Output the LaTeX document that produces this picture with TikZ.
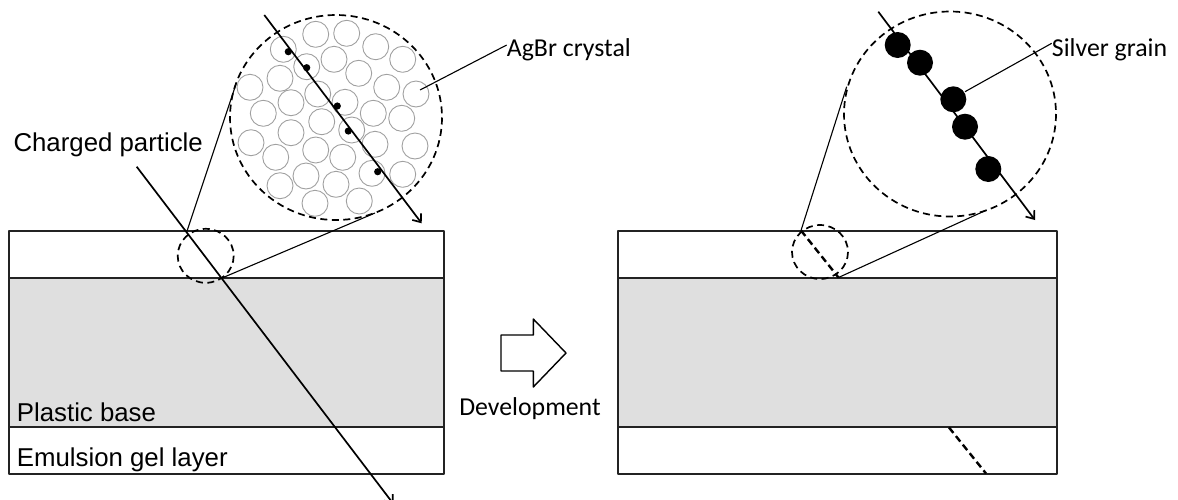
\documentclass[tikz,border=0pt]{standalone}
\usepackage{fontspec}
\setmainfont{Liberation Sans}
\newfontfamily\calibrifont{Carlito}
\usetikzlibrary{arrows.meta}

\definecolor{basegray}{RGB}{223,223,223}
\definecolor{crystalgray}{RGB}{160,160,160}
\definecolor{edgegray}{RGB}{35,35,35}

\tikzset{
  layer/.style={draw=edgegray, line width=1.4pt},
  lens/.style={draw=black, line width=1.7pt, dash pattern=on 7pt off 4.5pt},
  track/.style={line width=1.7pt, -{Straight Barb[length=7pt,width=11pt]}},
  leader/.style={line width=1.1pt},
  crystal/.style={draw=crystalgray, line width=0.9pt},
  lbl/.style={anchor=base west, inner sep=0pt, font=\fontsize{25.8}{30}\selectfont},
  clbl/.style={inner sep=0pt, font=\calibrifont\fontsize{25.8}{30}\selectfont}
}

\begin{document}
\begin{tikzpicture}[x=1pt, y=-1pt, line join=round]

  %% ════ 左：显影前的乳胶片 ════
  \fill[basegray] (9,278) rectangle (444,427);
  \draw[layer] (9,231) rectangle (444,474);
  \draw[layer] (9,278) -- (444,278);
  \draw[layer] (9,427) -- (444,427);

  % 粒子径迹上的关键点
  \coordinate (inL)   at (136.7,166.7);
  \coordinate (topL)  at (187,231);
  \coordinate (baseL) at (222,278);
  \coordinate (outL)  at (393.5,504);
  \draw[track] (inL) -- (outL);

  % 放大镜：小虚线圈 + 两条引线
  \draw[lens] (205.7,255.8) ellipse [x radius=28, y radius=27];
  \coordinate (lensLa) at (236,84);
  \coordinate (lensLb) at (375,213);
  \draw[leader] (topL) -- (lensLa);
  \draw[leader] (baseL) -- (lensLb);

  %% ════ 左上放大圈：AgBr 晶体 ════
  \draw[crystal] (283.3,49.3) circle (13);
  \draw[crystal] (315.7,34.3) circle (13);
  \draw[crystal] (346.7,33.3) circle (13);
  \draw[crystal] (375.7,46.7) circle (13);
  \draw[crystal] (402.7,59.3) circle (13);
  \draw[crystal] (306.7,66.7) circle (13);
  \draw[crystal] (334.0,59.3) circle (13);
  \draw[crystal] (280.0,78.3) circle (13);
  \draw[crystal] (358.7,73.3) circle (13);
  \draw[crystal] (250.0,87.3) circle (13);
  \draw[crystal] (317.7,94.0) circle (13);
  \draw[crystal] (386.7,87.3) circle (13);
  \draw[crystal] (416.0,94.0) circle (13);
  \draw[crystal] (291.0,102.7) circle (13);
  \draw[crystal] (345.0,102.3) circle (13);
  \draw[crystal] (263.3,113.3) circle (13);
  \draw[crystal] (373.3,113.3) circle (13);
  \draw[crystal] (401.7,118.3) circle (13);
  \draw[crystal] (321.7,121.7) circle (13);
  \draw[crystal] (291.0,132.7) circle (13);
  \draw[crystal] (351.7,130.0) circle (13);
  \draw[crystal] (251.0,142.7) circle (13);
  \draw[crystal] (375.0,144.3) circle (13);
  \draw[crystal] (415.0,146.0) circle (13);
  \draw[crystal] (315.7,150.0) circle (13);
  \draw[crystal] (275.7,157.3) circle (13);
  \draw[crystal] (342.7,157.3) circle (13);
  \draw[crystal] (306.0,176.0) circle (13);
  \draw[crystal] (372.0,173.3) circle (13);
  \draw[crystal] (402.7,174.3) circle (13);
  \draw[crystal] (280.0,185.7) circle (13);
  \draw[crystal] (336.0,184.3) circle (13);
  \draw[crystal] (315.0,203.3) circle (13);
  \draw[crystal] (359.3,201.0) circle (13);

  \draw[lens] (336,117.5) ellipse [x radius=106, y radius=102.5];
  \draw[track] (264.3,15) -- (421.7,223.3);

  % 潜影核（小黑点）
  \fill (288.3,51.7) circle (3.6);
  \fill (306.7,67.7) circle (3.6);
  \fill (337.3,106.0) circle (3.6);
  \fill (348.3,131.0) circle (3.6);
  \fill (377.7,171.7) circle (3.6);

  \coordinate (agbrFrom) at (420,90);
  \node[clbl, anchor=base west] (agbr) at (506.7,56.7) {AgBr crystal};
  \draw[leader] (agbrFrom) -- (agbr.west |- 0,45);

  %% ════ 中间：显影箭头 ════
  \draw[line width=1.4pt] (501,335) -- (533.3,335) -- (533.3,319) -- (566,353)
    -- (533.3,387) -- (533.3,371) -- (501,371) -- cycle;
  \node[clbl, anchor=base] (dev) at (530,415) {Development};

  %% ════ 右：显影后 ════
  \fill[basegray] (618,278) rectangle (1057,427);
  \draw[layer] (618,231) rectangle (1057,474);
  \draw[layer] (618,278) -- (1057,278);
  \draw[layer] (618,427) -- (1057,427);

  \coordinate (topR)  at (801,230.5);
  \coordinate (baseR) at (838.5,277.5);
  \draw[line width=2.4pt, dash pattern=on 7pt off 4pt] (topR) -- (baseR);
  \draw[line width=2.4pt, dash pattern=on 7pt off 4pt] (949,427.5) -- (986,473.5);

  \draw[lens] (820,252) ellipse [x radius=28, y radius=27];
  \coordinate (lensRa) at (846.7,86.7);
  \coordinate (lensRb) at (986.7,210);
  \draw[leader] (topR) -- (lensRa);
  \draw[leader] (baseR) -- (lensRb);

  \draw[lens] (950,114) ellipse [x radius=106, y radius=102.5];
  \draw[track] (878.3,11.7) -- (1035,220);

  % 银颗粒
  \fill (897.7,45.0) circle (13);
  \fill (920.0,62.7) circle (13);
  \fill (953.3,99.3) circle (13);
  \fill (965.0,126.7) circle (13);
  \fill (988.3,169.0) circle (13);

  \coordinate (grainFrom) at (965,91.7);
  \node[clbl, anchor=base west] (silver) at (1051.7,56.7) {Silver grain};
  \draw[leader] (grainFrom) -- (silver.west |- 0,43.3);

  %% ════ 文字标签 ════
  \node[lbl] (charged) at (13.3,151.7) {Charged particle};
  \node[lbl] (plastic) at (16.7,421.7) {Plastic base};
  \node[lbl] (emulsion) at (16.7,466) {Emulsion gel layer};

  % 固定画布
  \pgfresetboundingbox
  \path[use as bounding box] (0,0) rectangle (1178,499);
\end{tikzpicture}
\end{document}
